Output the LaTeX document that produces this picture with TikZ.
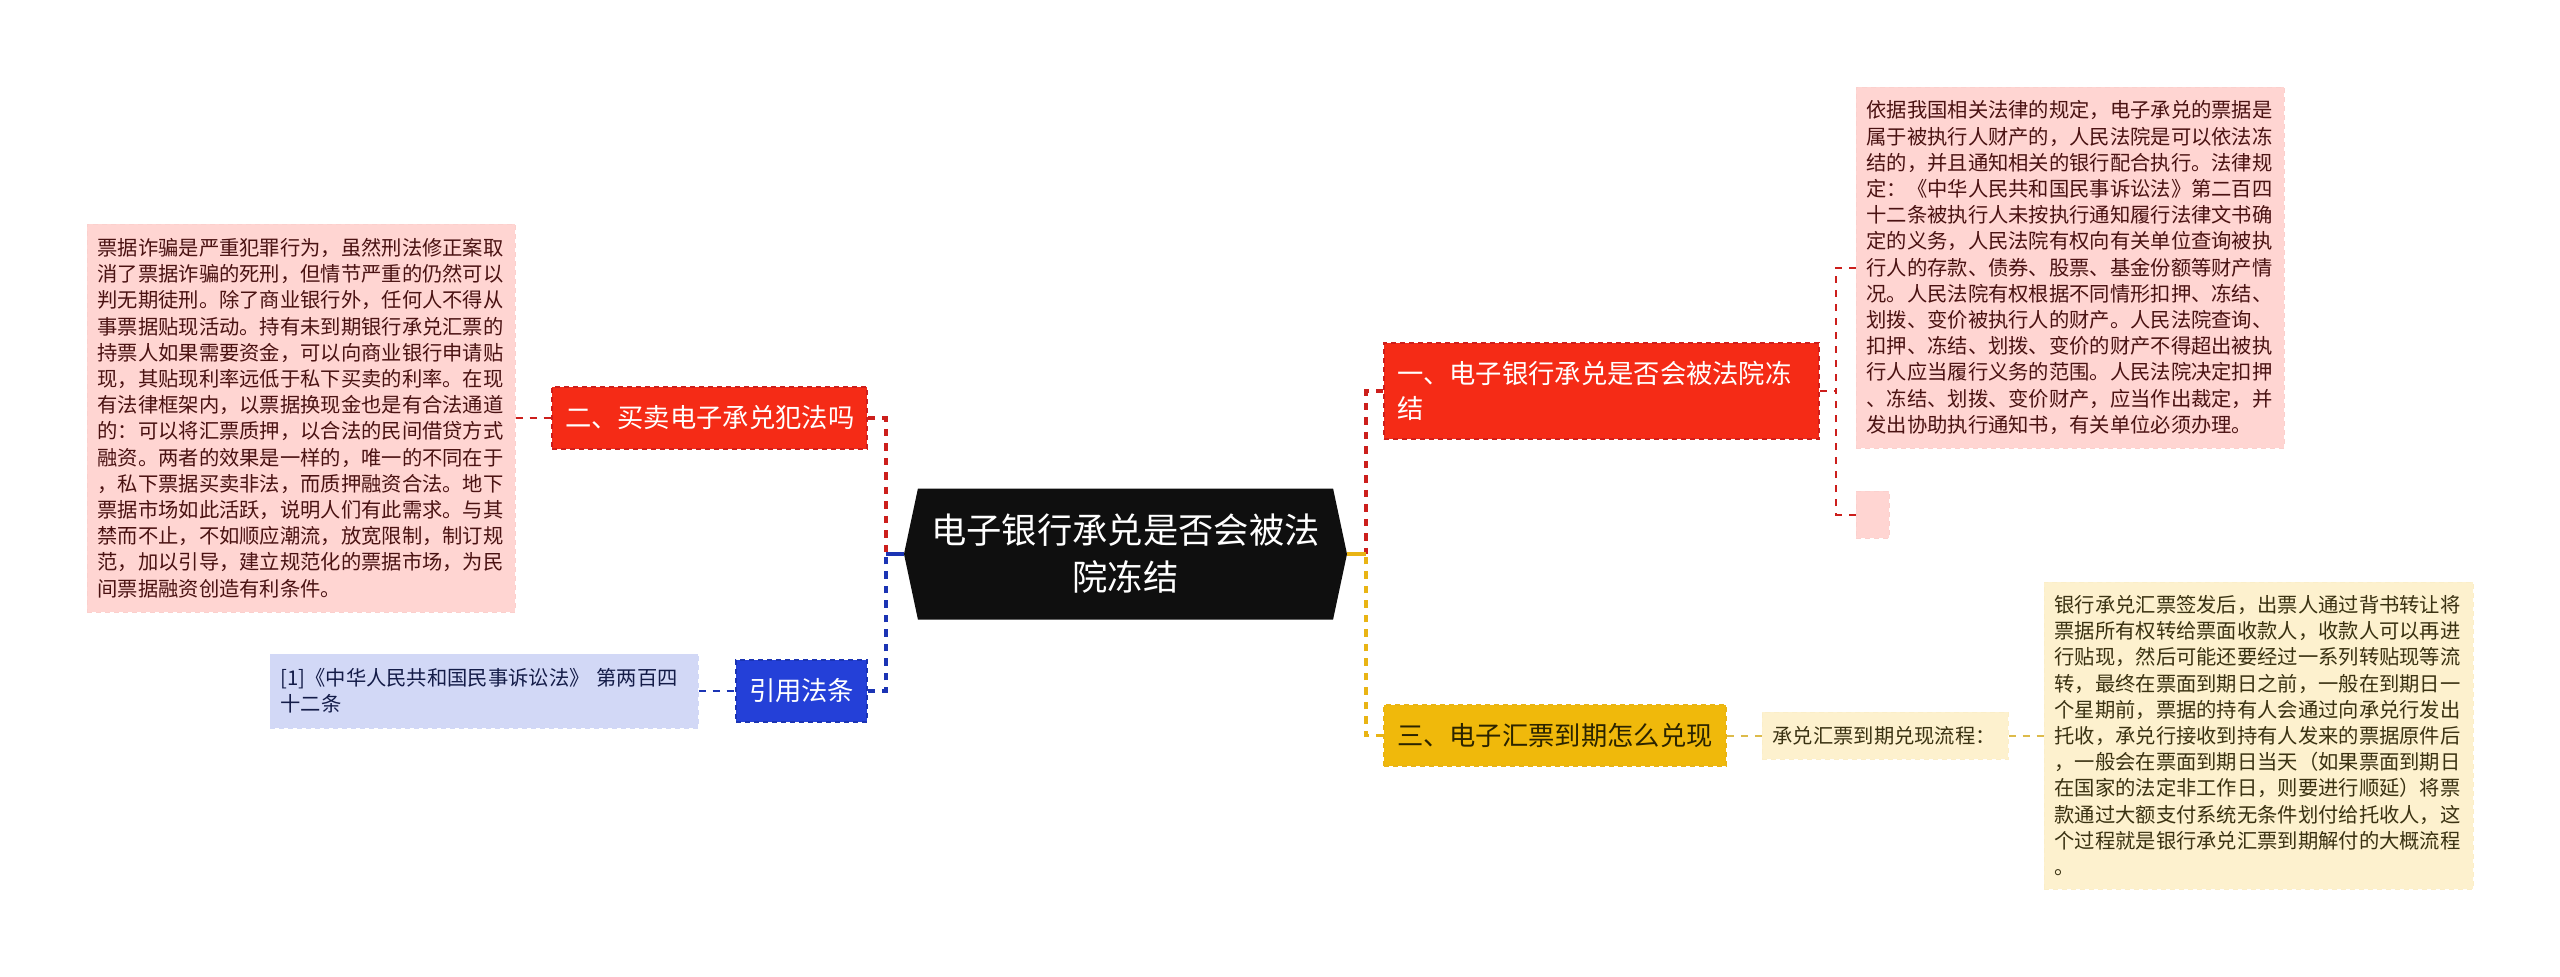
\documentclass[tikz,border=0pt]{standalone}
\usepackage{fontspec}
\setmainfont{Noto Sans CJK SC}
\usetikzlibrary{shapes.symbols}
\definecolor{rootblack}{HTML}{0F0F0F}
\definecolor{redfill}{HTML}{F52B16}
\definecolor{redline}{HTML}{CC1F1C}
\definecolor{pinkfill}{HTML}{FFD5D2}
\definecolor{pinkline}{HTML}{FBD0CD}
\definecolor{pinktext}{HTML}{4A1212}
\definecolor{bluefill}{HTML}{2440D8}
\definecolor{blueline}{HTML}{1B34B4}
\definecolor{paleblue}{HTML}{D2D8F6}
\definecolor{palebluetext}{HTML}{141C48}
\definecolor{yellowfill}{HTML}{F0B90B}
\definecolor{yellowtext}{HTML}{2B2400}
\definecolor{yellowline}{HTML}{E9B414}
\definecolor{creamfill}{HTML}{FDF1CE}
\definecolor{creamline}{HTML}{FBEEC8}
\definecolor{creamtext}{HTML}{3A3212}
\definecolor{creamwire}{HTML}{DDBB4A}
\tikzset{
  branchbox/.style={rectangle,align=left,inner xsep=13pt,inner ysep=0pt,line width=1.5pt,
    dash pattern=on 5pt off 4pt,font=\fontsize{26.3}{35}\selectfont},
  leafbox/.style={rectangle,align=left,inner xsep=10.5pt,inner ysep=0pt,line width=1pt,
    dash pattern=on 5pt off 4pt,font=\fontsize{20.3}{26.2}\selectfont},
  trunk/.style={line width=3.5pt,dash pattern=on 7.5pt off 7pt},
  stub/.style={line width=3.5pt},
  twig/.style={line width=2pt,dash pattern=on 7pt off 7pt}
}
\begin{document}
\begin{tikzpicture}[x=1pt,y=-1pt]
\useasboundingbox (0,0) rectangle (2560,977);

% root:
\node (root) [shape=signal,signal to=west and east,signal pointer angle=156,inner sep=0pt,
  minimum width=443pt,minimum height=131pt,fill=rootblack,text=white,align=center,
  font=\fontsize{35.3}{47}\selectfont] at (1125.5,554) {电子银行承兑是否会被法\\院冻结};

% left side:
\node (fanzui) [branchbox,fill=redfill,draw=redline,text=white,text width=289pt,minimum height=62pt] at (709.5,418) {二、买卖电子承兑犯法吗};
\node (fanzuitext) [leafbox,fill=pinkfill,draw=pinkline,text=pinktext,text width=407pt,minimum height=388pt] at (301,418) {票据诈骗是严重犯罪行为，虽然刑法修正案取\\消了票据诈骗的死刑，但情节严重的仍然可以\\判无期徒刑。除了商业银行外，任何人不得从\\事票据贴现活动。持有未到期银行承兑汇票的\\持票人如果需要资金，可以向商业银行申请贴\\现，其贴现利率远低于私下买卖的利率。在现\\有法律框架内，以票据换现金也是有合法通道\\的：可以将汇票质押，以合法的民间借贷方式\\融资。两者的效果是一样的，唯一的不同在于\\，私下票据买卖非法，而质押融资合法。地下\\票据市场如此活跃，说明人们有此需求。与其\\禁而不止，不如顺应潮流，放宽限制，制订规\\范，加以引导，建立规范化的票据市场，为民\\间票据融资创造有利条件。};
\node (yinyong) [branchbox,fill=bluefill,draw=blueline,text=white,text width=105pt,minimum height=62pt] at (801.5,691) {引用法条};
\node (yinyongtext) [leafbox,fill=paleblue,draw=paleblue,text=palebluetext,text width=407pt,minimum height=74pt] at (484,691) {[1]《中华人民共和国民事诉讼法》 第两百四\\十二条};

% right side:
\node (dongjie) [branchbox,fill=redfill,draw=redline,text=white,text width=409pt,minimum height=96pt] at (1601.5,391) {一、电子银行承兑是否会被法院冻\\结};
\node (dongjietext) [leafbox,fill=pinkfill,draw=pinkline,text=pinktext,text width=407pt,minimum height=361pt] at (2070,267.5) {依据我国相关法律的规定，电子承兑的票据是\\属于被执行人财产的，人民法院是可以依法冻\\结的，并且通知相关的银行配合执行。法律规\\定：《中华人民共和国民事诉讼法》第二百四\\十二条被执行人未按执行通知履行法律文书确\\定的义务，人民法院有权向有关单位查询被执\\行人的存款、债券、股票、基金份额等财产情\\况。人民法院有权根据不同情形扣押、冻结、\\划拨、变价被执行人的财产。人民法院查询、\\扣押、冻结、划拨、变价的财产不得超出被执\\行人应当履行义务的范围。人民法院决定扣押\\、冻结、划拨、变价财产，应当作出裁定，并\\发出协助执行通知书，有关单位必须办理。};
\node (dongjieblank) [leafbox,fill=pinkfill,draw=pinkline,inner xsep=0pt,minimum width=33pt,minimum height=47pt] at (1872.5,514.5) {};
\node (duixian) [branchbox,fill=yellowfill,draw=yellowline,text=yellowtext,text width=316pt,minimum height=61pt] at (1555,735.5) {三、电子汇票到期怎么兑现};
\node (liucheng) [leafbox,fill=creamfill,draw=creamline,text=creamtext,text width=225pt,minimum height=47pt] at (1885,735.5) {承兑汇票到期兑现流程：};
\node (liuchengtext) [leafbox,fill=creamfill,draw=creamline,text=creamtext,text width=408pt,minimum height=307pt] at (2258.5,735.5) {银行承兑汇票签发后，出票人通过背书转让将\\票据所有权转给票面收款人，收款人可以再进\\行贴现，然后可能还要经过一系列转贴现等流\\转，最终在票面到期日之前，一般在到期日一\\个星期前，票据的持有人会通过向承兑行发出\\托收，承兑行接收到持有人发来的票据原件后\\，一般会在票面到期日当天（如果票面到期日\\在国家的法定非工作日，则要进行顺延）将票\\款通过大额支付系统无条件划付给托收人，这\\个过程就是银行承兑汇票到期解付的大概流程\\。};

% connectors:
\coordinate (trunkleft) at (886,554);
\coordinate (trunkright) at (1366,554);
\coordinate (trunkleaf) at (1836,391);
\draw[trunk,redline] (fanzui.east) -| (trunkleft);
\draw[trunk,blueline] (yinyong.east) -| (trunkleft);
\draw[stub,blueline] (root.west) -- (trunkleft);
\draw[trunk,redline] (dongjie.west) -| (trunkright);
\draw[trunk,yellowline] (duixian.west) -| (trunkright);
\draw[stub,yellowline] (root.east) -- (trunkright);
\draw[twig,redline] (fanzuitext.east) -- (fanzui.west);
\draw[twig,blueline] (yinyongtext.east) -- (yinyong.west);
\draw[twig,redline] (dongjie.east) -- (trunkleaf);
\draw[twig,redline] (dongjietext.west) -| (trunkleaf);
\draw[twig,redline] (dongjieblank.west) -| (trunkleaf);
\draw[twig,creamwire] (duixian.east) -- (liucheng.west);
\draw[twig,creamwire] (liucheng.east) -- (liuchengtext.west);

\end{tikzpicture}
\end{document}
